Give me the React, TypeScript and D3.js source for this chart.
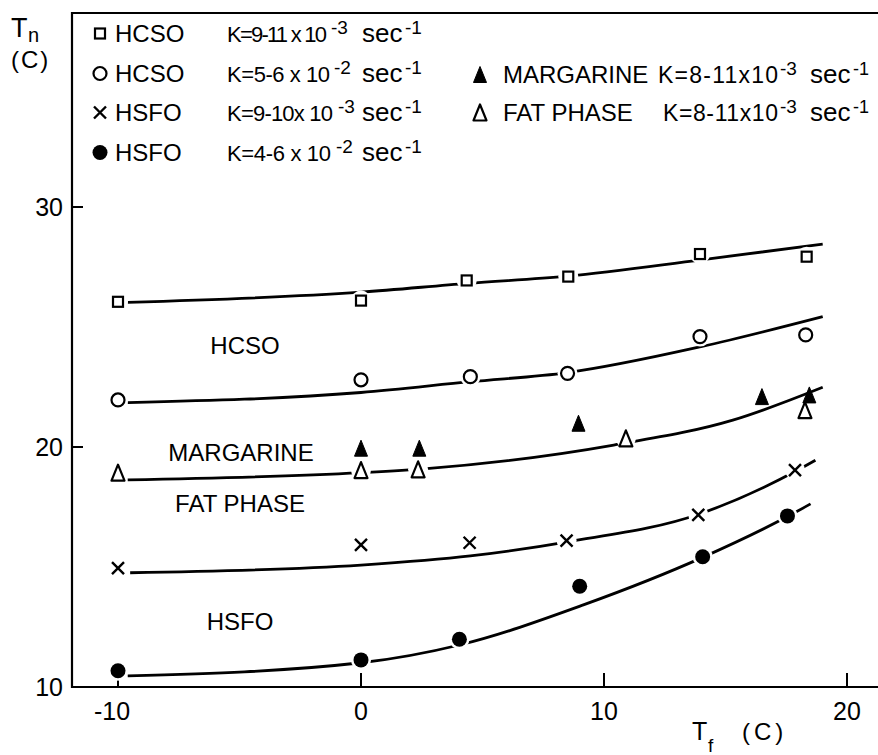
import { useRef, useEffect } from 'react';
import * as d3 from 'd3';

type Pt = [number, number];
type MarkerType = 'square' | 'circle' | 'cross' | 'dot' | 'triFill' | 'triOpen';

// measured points [Tf, Tn]
const hcsoSlow: Pt[] = [[-10, 26.05], [0, 26.1], [4.35, 26.94], [8.53, 27.1], [13.95, 28.04], [18.34, 27.93]];
const hcsoFast: Pt[] = [[-10, 21.96], [0, 22.8], [4.5, 22.93], [8.5, 23.07], [13.95, 24.6], [18.3, 24.67]];
const margarine: Pt[] = [[0, 19.95], [2.4, 19.95], [8.95, 20.99], [16.5, 22.1], [18.45, 22.17]];
const fatPhase: Pt[] = [[-10, 18.93], [0, 19.04], [2.35, 19.07], [10.9, 20.36], [18.27, 21.54]];
const hsfoSlow: Pt[] = [[-10, 14.95], [0, 15.92], [4.47, 16.01], [8.46, 16.1], [13.88, 17.17], [17.86, 19.04]];
const hsfoFast: Pt[] = [[-10, 10.68], [0, 11.13], [4.05, 11.99], [9.0, 14.2], [14.06, 15.43], [17.55, 17.13]];

// hand drawn fit curves
const hcsoSlowFit: Pt[] = [[-9.6, 26.03], [0, 26.45], [4.4, 26.82], [8.5, 27.12], [14, 27.8], [19, 28.45]];
const hcsoFastFit: Pt[] = [[-9.6, 21.85], [0, 22.27], [4.5, 22.72], [8.5, 23.1], [14, 24.18], [19, 25.43]];
const fatPhaseFit: Pt[] = [[-9.6, 18.63], [0, 18.93], [2.7, 19.1], [10.4, 20.08], [15.3, 21.12], [19, 22.49]];
const hsfoSlowFit: Pt[] = [[-9.5, 14.76], [0, 15.08], [4.5, 15.46], [8.5, 16.05], [13.9, 17.2], [17.9, 19.0], [18.7, 19.45]];
const hsfoFastFit: Pt[] = [[-9.6, 10.46], [0, 11.01], [4.05, 11.75], [9.15, 13.42], [14.06, 15.4], [17.55, 17.1], [18.5, 17.63]];

const xTicks = [-10, 0, 10, 20];
const yTicks = [10, 20, 30];

const series: { data: Pt[]; marker: MarkerType; halo: boolean }[] = [
  { data: hcsoSlow, marker: 'square', halo: true },
  { data: hcsoFast, marker: 'circle', halo: true },
  { data: fatPhase, marker: 'triOpen', halo: true },
  { data: margarine, marker: 'triFill', halo: false },
  { data: hsfoSlow, marker: 'cross', halo: true },
  { data: hsfoFast, marker: 'dot', halo: true },
];
const fits = [hcsoSlowFit, hcsoFastFit, fatPhaseFit, hsfoSlowFit, hsfoFastFit];

const legendLeft = [
  { marker: 'square' as MarkerType, name: 'HCSO', k: 'K=9-11 x 10', exp: '-3' },
  { marker: 'circle' as MarkerType, name: 'HCSO', k: 'K=5-6 x 10', exp: '-2' },
  { marker: 'cross' as MarkerType, name: 'HSFO', k: 'K=9-10x 10', exp: '-3' },
  { marker: 'dot' as MarkerType, name: 'HSFO', k: 'K=4-6 x 10', exp: '-2' },
];
const legendRight = [
  { marker: 'triFill' as MarkerType, name: 'MARGARINE', k: 'K=8-11x10', exp: '-3' },
  { marker: 'triOpen' as MarkerType, name: 'FAT PHASE', k: 'K=8-11x10', exp: '-3' },
];

const curveLabels = [
  { text: 'HCSO', x: 245, y: 345 },
  { text: 'MARGARINE', x: 241, y: 452 },
  { text: 'FAT PHASE', x: 240, y: 503 },
  { text: 'HSFO', x: 240, y: 621 },
];

const FONT = "'Liberation Sans', Arial, sans-serif";

const drawMarker = (
  g: d3.Selection<SVGGElement, unknown, null, undefined>,
  type: MarkerType,
  cx: number,
  cy: number,
  halo = false
) => {
  if (halo) {
    g.append('circle').attr('cx', cx).attr('cy', cy).attr('r', 10).attr('fill', 'white');
    return;
  }
  if (type === 'square') {
    g.append('rect').attr('x', cx - 5).attr('y', cy - 5).attr('width', 10).attr('height', 10)
      .attr('fill', 'white').attr('stroke', 'black').attr('stroke-width', 2.2);
  } else if (type === 'circle') {
    g.append('circle').attr('cx', cx).attr('cy', cy).attr('r', 6.5)
      .attr('fill', 'white').attr('stroke', 'black').attr('stroke-width', 2.2);
  } else if (type === 'dot') {
    g.append('circle').attr('cx', cx).attr('cy', cy).attr('r', 7.5).attr('fill', 'black');
  } else if (type === 'cross') {
    const s = 6;
    g.append('path')
      .attr('d', `M${cx - s},${cy - s}L${cx + s},${cy + s}M${cx + s},${cy - s}L${cx - s},${cy + s}`)
      .attr('stroke', 'black').attr('stroke-width', 2.4).attr('fill', 'none');
  } else {
    const w = 6.5;
    const h = 8;
    g.append('path')
      .attr('d', `M${cx},${cy - h}L${cx + w},${cy + h}L${cx - w},${cy + h}Z`)
      .attr('fill', type === 'triFill' ? 'black' : 'white')
      .attr('stroke', 'black').attr('stroke-width', type === 'triFill' ? 1 : 2.2)
      .attr('stroke-linejoin', 'round');
  }
};

const Chart = ({ width = 878, height = 755 }: { width?: number; height?: number }) => {
  const svgRef = useRef(null);

  useEffect(() => {
    const svg = d3.select(svgRef.current);
    svg.selectAll('*').remove();

    const xScale = d3.scaleLinear().domain([-10, 20]).range([118, 847]);
    const yScale = d3.scaleLinear().domain([10, 30]).range([687, 207]);
    const left = 72;
    const top = 13;
    const bottom = yScale(10);

    const g = svg.append('g').attr('font-family', FONT).attr('fill', 'black');

    // frame: left axis, bottom axis, top border
    g.append('path')
      .attr('d', `M${width},${top}H${left}V${bottom}H${width}`)
      .attr('fill', 'none').attr('stroke', 'black').attr('stroke-width', 2.2);

    // y ticks (inward)
    yTicks.forEach((t) => {
      if (t !== 10) {
        g.append('line').attr('x1', left).attr('x2', left + 11)
          .attr('y1', yScale(t)).attr('y2', yScale(t))
          .attr('stroke', 'black').attr('stroke-width', 2);
      }
      g.append('text').attr('x', 63).attr('y', yScale(t) + 9)
        .attr('text-anchor', 'end').attr('font-size', 25).text(t);
    });

    // x ticks (inward)
    xTicks.forEach((t) => {
      g.append('line').attr('x1', xScale(t)).attr('x2', xScale(t))
        .attr('y1', bottom).attr('y2', bottom - 14)
        .attr('stroke', 'black').attr('stroke-width', 2);
      g.append('text').attr('x', xScale(t) - (t < 0 ? 6 : 0)).attr('y', 720)
        .attr('text-anchor', 'middle').attr('font-size', 25).text(t);
    });

    // axis titles
    g.append('text').attr('x', 11).attr('y', 37).attr('font-size', 27).text('T');
    g.append('text').attr('x', 28).attr('y', 42).attr('font-size', 20).text('n');
    g.append('text').attr('x', 11).attr('y', 68).attr('font-size', 24)
      .attr('letter-spacing', 2).text('(C)');
    g.append('text').attr('x', 692).attr('y', 740).attr('font-size', 25).text('T');
    g.append('text').attr('x', 708).attr('y', 752).attr('font-size', 19).text('f');
    g.append('text').attr('x', 742).attr('y', 740).attr('font-size', 24)
      .attr('letter-spacing', 4).text('(C)');

    // fit curves
    const line = d3.line<Pt>()
      .x((d) => xScale(d[0]))
      .y((d) => yScale(d[1]))
      .curve(d3.curveMonotoneX);
    fits.forEach((f) => {
      g.append('path').datum(f).attr('d', line)
        .attr('fill', 'none').attr('stroke', 'black').attr('stroke-width', 2.8);
    });

    // halos, then markers
    series.forEach((s) => {
      if (s.halo) s.data.forEach((d) => drawMarker(g, s.marker, xScale(d[0]), yScale(d[1]), true));
    });
    series.forEach((s) => {
      s.data.forEach((d) => drawMarker(g, s.marker, xScale(d[0]), yScale(d[1])));
    });

    // inline curve labels
    curveLabels.forEach((l) => {
      g.append('text').attr('x', l.x).attr('y', l.y + 9)
        .attr('text-anchor', 'middle').attr('font-size', 24).text(l.text);
    });

    // legend, left column
    const leftBase = [42, 82, 121, 161];
    const leftKLen = [100, 103, 106, 104];
    const leftExpX = [331, 334, 338, 336];
    legendLeft.forEach((l, i) => {
      const y = leftBase[i];
      drawMarker(g, l.marker, 100, y - 8.5);
      g.append('text').attr('x', 115).attr('y', y).attr('font-size', 24).text(l.name);
      g.append('text').attr('x', 227).attr('y', y).attr('font-size', 22)
        .attr('textLength', leftKLen[i]).attr('lengthAdjust', 'spacing').text(l.k);
      g.append('text').attr('x', leftExpX[i]).attr('y', y - 8).attr('font-size', 19).text(l.exp);
      g.append('text').attr('x', 362).attr('y', y).attr('font-size', 26).text('sec');
      g.append('text').attr('x', 405).attr('y', y - 8).attr('font-size', 19).text('-1');
    });

    // legend, right column
    const rightBase = [83, 121];
    const rightKX = [658, 663];
    legendRight.forEach((l, i) => {
      const y = rightBase[i];
      drawMarker(g, l.marker, 480, y - 8.5);
      g.append('text').attr('x', 503).attr('y', y).attr('font-size', 24).text(l.name);
      g.append('text').attr('x', rightKX[i]).attr('y', y).attr('font-size', 23)
        .attr('textLength', 778 - rightKX[i]).attr('lengthAdjust', 'spacing').text(l.k);
      g.append('text').attr('x', 780).attr('y', y - 8).attr('font-size', 19).text(l.exp);
      g.append('text').attr('x', 810).attr('y', y).attr('font-size', 26).text('sec');
      g.append('text').attr('x', 853).attr('y', y - 8).attr('font-size', 18).text('-1');
    });
  }, [width, height]);

  return (
    <svg
      ref={svgRef}
      width={width}
      height={height}
      style={{ position: 'absolute', left: 0, top: 0, background: 'white' }}
    />
  );
};

export default function App() {
  return <Chart />;
}
